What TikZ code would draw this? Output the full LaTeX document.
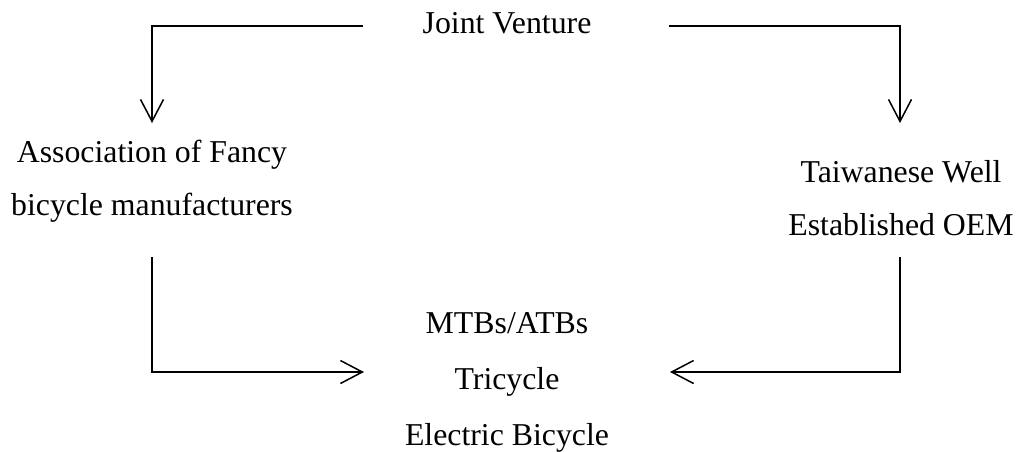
\documentclass[tikz,border=0pt]{standalone}
\usepackage{fontspec}
\setmainfont{Liberation Serif}
\usetikzlibrary{arrows.meta}
\begin{document}
\begin{tikzpicture}[x=1pt,y=-1pt,
  lbl/.style={font=\fontsize{31.8}{53}\selectfont, align=center, inner sep=0pt, anchor=base},
  lblwide/.style={lbl, font=\fontsize{31.8}{56}\selectfont},
  conn/.style={line width=1.5pt},
  arr/.style={conn, -{Straight Barb[length=22pt,width=23pt]}}]
\useasboundingbox (0,0) rectangle (1016,451);
\node[lbl] (jv) at (507,33) {Joint Venture};
\node[lbl] (assoc) at (152,215) {Association of Fancy\\bicycle manufacturers};
\node[lbl] (twn) at (901,235) {Taiwanese Well\\Established OEM};
\node[lblwide] (prod) at (507,445) {MTBs/ATBs\\Tricycle\\Electric Bicycle};
\coordinate (jvl) at (363,26);
\coordinate (jvr) at (669,26);
\coordinate (assocTop) at (152,123);
\coordinate (twnTop) at (900,123);
\coordinate (assocBot) at (152,257);
\coordinate (twnBot) at (900,257);
\coordinate (prodL) at (364,372);
\coordinate (prodR) at (670,372);
\draw[arr] (jvl) -| (assocTop);
\draw[arr] (jvr) -| (twnTop);
\draw[arr] (assocBot) |- (prodL);
\draw[arr] (twnBot) |- (prodR);
\end{tikzpicture}
\end{document}
